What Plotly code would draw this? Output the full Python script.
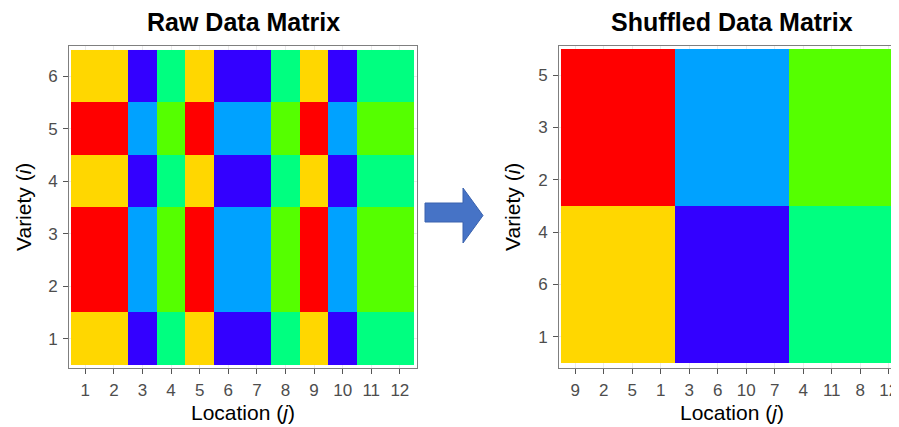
import plotly.graph_objects as go

# ---- data ----
varieties = [1, 2, 3, 4, 5, 6]
locations = [1, 2, 3, 4, 5, 6, 7, 8, 9, 10, 11, 12]
# category code per (variety, location): 0 yellow, 1 red, 2 violet-blue, 3 sky blue, 4 spring green, 5 lime
raw_matrix = [
    [0, 0, 2, 4, 0, 2, 2, 4, 0, 2, 4, 4],  # variety 1
    [1, 1, 3, 5, 1, 3, 3, 5, 1, 3, 5, 5],  # variety 2
    [1, 1, 3, 5, 1, 3, 3, 5, 1, 3, 5, 5],  # variety 3
    [0, 0, 2, 4, 0, 2, 2, 4, 0, 2, 4, 4],  # variety 4
    [1, 1, 3, 5, 1, 3, 3, 5, 1, 3, 5, 5],  # variety 5
    [0, 0, 2, 4, 0, 2, 2, 4, 0, 2, 4, 4],  # variety 6
]
shuffled_locations = [9, 2, 5, 1, 3, 6, 10, 7, 4, 11, 8, 12]
shuffled_varieties = [1, 6, 4, 2, 3, 5]
category_colors = ["#FFD700", "#FF0000", "#3300FF", "#00A2FF", "#00FF80", "#55FF00"]

# the page body has a default 8px margin; size the figure so it ends at the window edge
OFF = 8
W, H = 899 - OFF, 427 - OFF
def px(x):
    return (x - OFF) / W
def py(y):
    return (427 - y) / H

# discrete colorscale
n = len(category_colors)
cs = []
for k, c in enumerate(category_colors):
    cs.append([k / n, c])
    cs.append([(k + 1) / n, c])

shuffled_matrix = [[raw_matrix[v - 1][l - 1] for l in shuffled_locations] for v in shuffled_varieties]

fig = go.Figure()
fig.add_trace(go.Heatmap(
    x=locations, y=varieties, z=raw_matrix,
    colorscale=cs, zmin=-0.5, zmax=n - 0.5, showscale=False,
    xaxis="x", yaxis="y", hoverinfo="skip"))
fig.add_trace(go.Heatmap(
    x=list(range(1, len(shuffled_locations) + 1)),
    y=list(range(1, len(shuffled_varieties) + 1)),
    z=shuffled_matrix,
    colorscale=cs, zmin=-0.5, zmax=n - 0.5, showscale=False,
    xaxis="x2", yaxis="y2", hoverinfo="skip"))

font = "Liberation Sans, Arial, sans-serif"
tickfont = dict(family=font, size=17, color="#4D4D4D")
axis_common = dict(
    showgrid=True, gridcolor="#EBEBEB", gridwidth=1, zeroline=False,
    showline=True, linecolor="#7F7F7F", linewidth=1,
    ticks="outside", ticklen=5, tickcolor="#555555", tickwidth=1,
    tickfont=tickfont, fixedrange=True, ticklabelstandoff=2)

fig.update_layout(
    width=W, height=H,
    margin=dict(l=0, r=0, t=0, b=0),
    paper_bgcolor="white", plot_bgcolor="white",
    font=dict(family=font),
    xaxis=dict(domain=[px(69), px(417)], range=[0.43, 12.6], anchor="y",
               tickvals=locations, ticktext=[str(v) for v in locations],
               mirror=True, **axis_common),
    yaxis=dict(domain=[py(368), py(46)], range=[0.443, 6.576], anchor="x",
               tickvals=varieties, ticktext=[str(v) for v in varieties],
               mirror=True, **axis_common),
    xaxis2=dict(domain=[px(559), 1.0], range=[0.43, 12.36], anchor="y2",
                tickvals=list(range(1, len(shuffled_locations) + 1)),
                ticktext=[str(v) for v in shuffled_locations],
                mirror=True, **axis_common),
    yaxis2=dict(domain=[py(368), py(45.7)], range=[0.404, 6.563], anchor="x2",
                tickvals=list(range(1, len(shuffled_varieties) + 1)),
                ticktext=[str(v) for v in shuffled_varieties],
                mirror=False, **axis_common),
)

annotations = [
    dict(text="<b>Raw Data Matrix</b>", x=px(243), y=py(22), font=dict(size=25, color="black")),
    dict(text="<b>Shuffled Data Matrix</b>", x=px(732), y=py(22), font=dict(size=25, color="black")),
    dict(text="Location (<i>j</i>)", x=px(243), y=py(412), font=dict(size=21, color="black")),
    dict(text="Location (<i>j</i>)", x=px(732), y=py(412), font=dict(size=21, color="black")),
    dict(text="Variety (<i>i</i>)", x=px(23), y=py(207), textangle=-90, font=dict(size=21, color="black")),
    dict(text="Variety (<i>i</i>)", x=px(512), y=py(207), textangle=-90, font=dict(size=21, color="black")),
]
for a in annotations:
    a.update(xref="paper", yref="paper", showarrow=False, xanchor="center", yanchor="middle")
fig.update_layout(annotations=annotations)

# block arrow between panels
pts = [(425, 203), (463, 203), (463, 188), (483, 215.5), (463, 243), (463, 222), (425, 222)]
path = "M " + " L ".join(f"{px(x)},{py(y)}" for x, y in pts) + " Z"
fig.add_shape(type="path", path=path, xref="paper", yref="paper",
              fillcolor="#4673C6", line=dict(color="#3A62AE", width=1))

fig.write_html("out.html")
